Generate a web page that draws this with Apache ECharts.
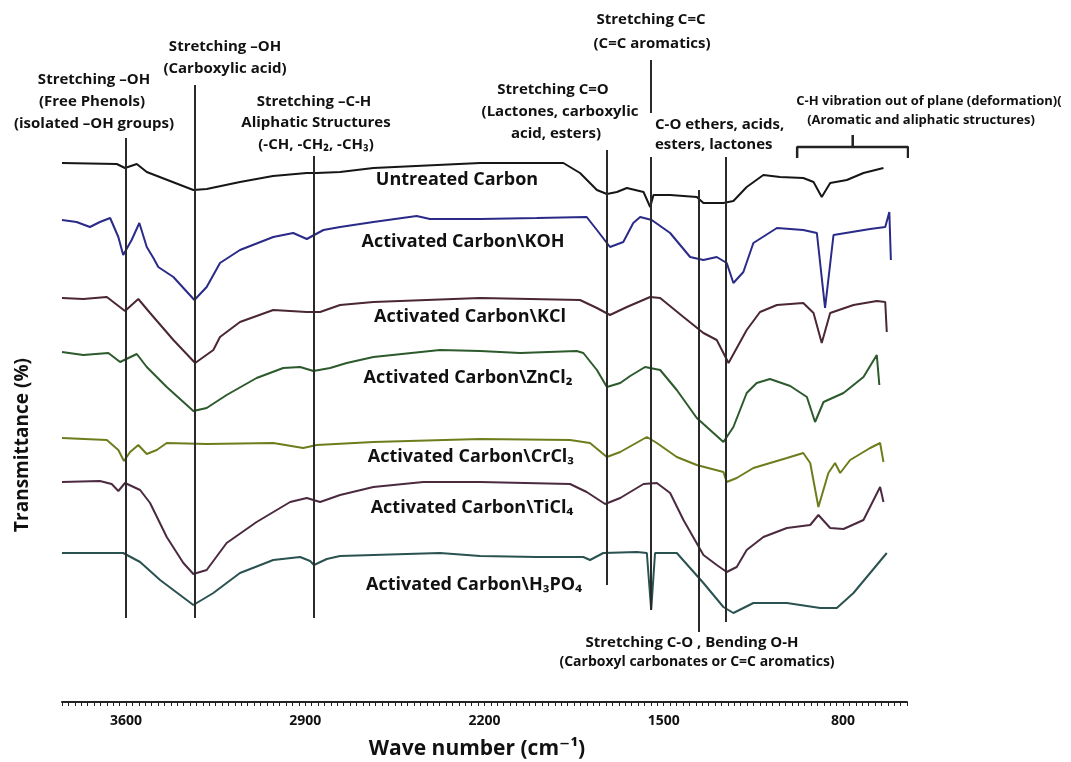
<!DOCTYPE html>
<html>
<head>
<meta charset="utf-8">
<script src="https://cdn.jsdelivr.net/npm/echarts@6/dist/echarts.min.js"></script>
<style>
html,body{margin:0;padding:0;background:#fff;}
#chart{width:1071px;height:762px;}
</style>
</head>
<body>
<div id="chart"></div>
<script>
// ---- data: [wavenumber cm-1, transmittance (arb. offset units)] ----
const untreated = [[3850,539],[3636,538],[3604,534],[3558,538],[3519,530],[3337,512],[3285,513],[3155,520],[3026,526],[2894,529],[2855,529],[2764,530],[2634,534],[2217,539],[1892,539],[1827,529],[1761,512],[1722,508],[1683,510],[1644,514],[1579,510],[1553,495],[1540,507],[1475,507],[1371,505],[1345,499],[1267,499],[1228,501],[1176,515],[1111,527],[1046,525],[955,524],[915,520],[883,505],[850,519],[785,522],[720,529],[642,534]];
const koh = [[3850,482],[3793,480],[3741,475],[3702,480],[3662,484],[3630,465],[3611,447],[3578,462],[3548,479],[3519,455],[3493,444],[3474,435],[3415,425],[3333,402],[3285,415],[3233,439],[3155,452],[3025,465],[2947,469],[2894,463],[2829,472],[2764,475],[2634,480],[2465,486],[2413,483],[2217,483],[1996,484],[1801,485],[1761,472],[1710,455],[1658,460],[1619,479],[1592,485],[1547,482],[1475,469],[1397,445],[1345,442],[1293,445],[1254,439],[1228,419],[1189,430],[1150,459],[1058,474],[955,472],[902,469],[870,394],[837,467],[694,473],[635,475],[619,490],[613,442]];
const kcl = [[3850,404],[3767,403],[3675,405],[3604,391],[3552,403],[3506,389],[3415,362],[3330,339],[3259,352],[3233,365],[3155,380],[3025,392],[2894,390],[2842,390],[2764,397],[2634,400],[2217,404],[1827,402],[1761,394],[1710,387],[1644,395],[1553,405],[1514,404],[1423,385],[1345,369],[1293,362],[1247,339],[1176,372],[1124,390],[1058,397],[955,399],[915,389],[883,359],[850,389],[759,397],[668,401],[635,400],[629,370]];
const zncl2 = [[3850,350],[3767,347],[3669,349],[3623,340],[3558,348],[3519,335],[3441,315],[3337,291],[3285,294],[3207,307],[3090,324],[2986,334],[2920,335],[2868,331],[2803,334],[2738,339],[2634,345],[2374,352],[2217,351],[2061,349],[1840,351],[1814,349],[1761,332],[1722,315],[1670,319],[1631,326],[1573,335],[1514,332],[1449,312],[1371,284],[1319,272],[1267,260],[1228,275],[1176,309],[1137,319],[1085,323],[1006,316],[941,305],[909,280],[876,300],[798,309],[720,325],[668,347],[658,317]];
const crcl3 = [[3850,264],[3675,262],[3630,252],[3608,241],[3584,250],[3552,257],[3519,248],[3480,252],[3441,259],[3285,258],[3025,259],[2908,254],[2855,257],[2634,260],[2217,263],[1866,262],[1788,259],[1722,245],[1670,250],[1566,265],[1527,259],[1449,245],[1371,237],[1267,230],[1254,220],[1215,224],[1150,234],[1019,244],[955,249],[928,239],[896,195],[857,229],[831,239],[811,229],[772,242],[694,254],[655,259],[642,240]];
const ticl4 = [[3850,220],[3702,221],[3656,218],[3630,211],[3604,219],[3545,212],[3506,199],[3441,165],[3376,139],[3337,128],[3285,132],[3207,159],[3090,180],[2959,200],[2894,204],[2842,200],[2764,207],[2634,215],[2439,220],[2217,220],[1866,218],[1801,210],[1729,198],[1670,204],[1579,218],[1527,219],[1475,209],[1423,182],[1345,147],[1293,137],[1254,130],[1215,135],[1176,152],[1111,165],[1019,174],[928,177],[896,187],[850,174],[798,173],[720,182],[655,215],[642,200]];
const h3po4 = [[3850,149],[3611,149],[3545,140],[3467,122],[3337,97],[3259,109],[3155,129],[3025,142],[2920,145],[2881,141],[2866,137],[2816,143],[2764,146],[2374,149],[2217,146],[1996,145],[1814,145],[1788,142],[1736,149],[1605,150],[1566,149],[1549,92],[1534,149],[1449,149],[1345,119],[1267,95],[1228,89],[1150,99],[1019,99],[889,94],[824,94],[759,109],[629,149]];

const seriesNames = ['Untreated Carbon','Activated Carbon\\KOH','Activated Carbon\\KCl','Activated Carbon\\ZnCl₂','Activated Carbon\\CrCl₃','Activated Carbon\\TiCl₄','Activated Carbon\\H₃PO₄'];
const tickLabels = [3600, 2900, 2200, 1500, 800];

// guide lines: [wavenumber, top value, bottom value]
const guideLines = [[3600,564,84],[3333,617,84],[2868,546,84],[1723,552,117],[1549,642,589],[1549,545,92],[1364,512,70],[1256,545,80]];
// bracket for C-H out of plane region
const bracket = [[979,544],[979,555],[546,555],[546,544]];
const bracketStem = [[762,555],[762,567]];

const colors = ['#161616','#2a2a88','#4a2731','#2c5a2c','#6e7d1c','#4b2a40','#2a5250'];
const FONT = '"Open Sans", "DejaVu Sans", sans-serif';

const chart = echarts.init(document.getElementById('chart'), null, {renderer:'canvas'});

const minorTicks = [];
for (let v = 550; v <= 3850; v += 25) minorTicks.push(v);

const dataSets = [untreated, koh, kcl, zncl2, crcl3, ticl4, h3po4];
const series = dataSets.map((d, i) => ({
  name: seriesNames[i], type: 'line', data: d, showSymbol: false, symbol: 'none',
  lineStyle: {color: colors[i], width: 2}, silent: true, z: 3
}));

series.push({
  type: 'line', name: 'guides', data: [], silent: true,
  markLine: {
    silent: true, symbol: ['none','none'], animation: false,
    label: {show: false},
    lineStyle: {color: '#2a2a2a', width: 2, type: 'solid'},
    data: guideLines.map(g => [{coord: [g[0], g[1]]}, {coord: [g[0], g[2]]}])
  }
});
series.push({type:'line', data: bracket, showSymbol:false, symbol:'none', silent:true, lineStyle:{color:'#222', width:2.5}});
series.push({type:'line', data: bracketStem, showSymbol:false, symbol:'none', silent:true, lineStyle:{color:'#222', width:2.5}});

function txt(x, y, s, size, align, rot) {
  return {type:'text', x: x, y: y, rotation: rot || 0, silent: true,
    style:{text: s, font: 'bold ' + size + 'px ' + FONT, fill:'#111', textAlign: align || 'center', textVerticalAlign:'middle'}};
}

const A = 15;
const graphics = [
  txt(94, 80, 'Stretching –OH', A), txt(92, 102, '(Free Phenols)', A), txt(94, 124, '(isolated –OH groups)', A),
  txt(225, 47, 'Stretching –OH', A), txt(225, 69, '(Carboxylic acid)', A),
  txt(314, 102, 'Stretching –C-H', A), txt(316, 123, 'Aliphatic Structures', A), txt(316, 145, '(-CH, -CH₂, -CH₃)', A),
  txt(553, 90, 'Stretching C=O', A), txt(560, 112, '(Lactones, carboxylic', A), txt(556, 134, 'acid, esters)', A),
  txt(651, 20, 'Stretching C=C', A), txt(652, 44, '(C=C aromatics)', A),
  txt(655, 125, 'C-O ethers, acids,', A, 'left'), txt(655, 145, 'esters, lactones', A, 'left'),
  txt(929, 101, 'C-H vibration out of plane (deformation)(', 13), txt(921, 120, '(Aromatic and aliphatic structures)', 13),
  txt(692, 643, 'Stretching C-O , Bending O-H', A), txt(697, 662, '(Carboxyl carbonates or C=C aromatics)', 14),
  txt(457, 180, seriesNames[0], 18), txt(463, 242, seriesNames[1], 18), txt(470, 317, seriesNames[2], 18),
  txt(468, 378, seriesNames[3], 18), txt(471, 457, seriesNames[4], 18), txt(472, 508, seriesNames[5], 18),
  txt(474, 585, seriesNames[6], 18),
  txt(477, 749, 'Wave number (cm⁻¹)', 21),
  txt(23, 445, 'Transmittance (%)', 19, 'center', Math.PI / 2)
];

chart.setOption({
  backgroundColor: '#fff',
  animation: false,
  grid: {left: 62, right: 164, top: 40, bottom: 60, containLabel: false},
  xAxis: {
    type: 'value', inverse: true, min: 550, max: 3850,
    axisLine: {show: true, lineStyle: {color: '#222', width: 2}},
    axisTick: {show: true, customValues: minorTicks, length: 4, inside: false, lineStyle: {color: '#222', width: 1}},
    axisLabel: {customValues: tickLabels, margin: 12, fontFamily: FONT, fontWeight: 'bold', fontSize: 14, color: '#111',
      formatter: v => String(v)},
    splitLine: {show: false}
  },
  yAxis: {
    type: 'value', min: 0, max: 662,
    axisLine: {show: false}, axisTick: {show: false}, axisLabel: {show: false}, splitLine: {show: false}
  },
  series: series,
  graphic: graphics
});
</script>
</body>
</html>
